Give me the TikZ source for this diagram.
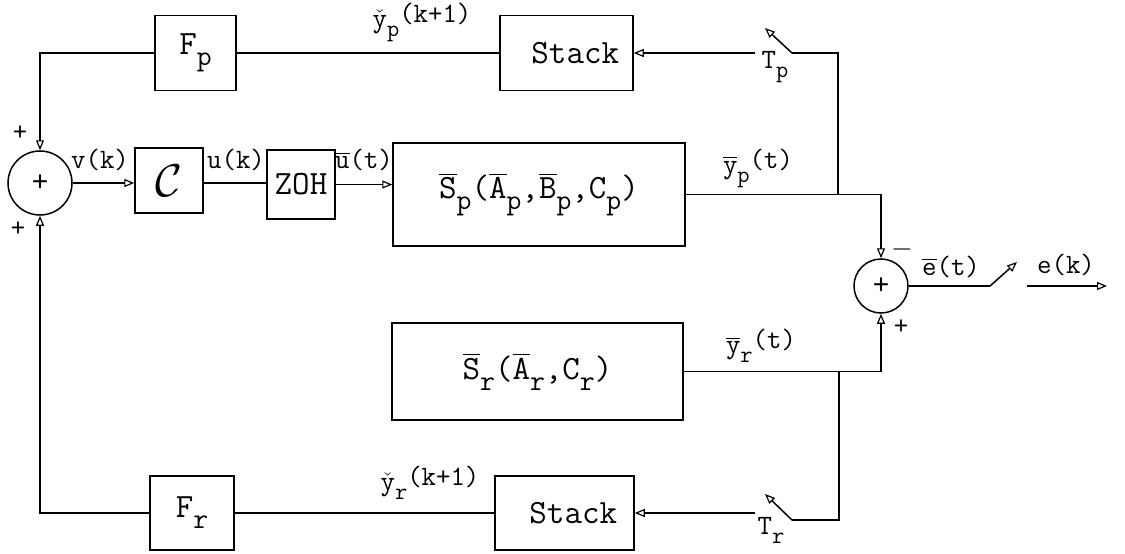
\RequirePackage{fix-cm}
\documentclass[tikz,border=0pt]{standalone}
\usepackage{amsmath}
\usepackage{fontspec}
\usetikzlibrary{arrows.meta}
\newcommand\tb[1]{\(\overline{\texttt{#1}}\)}
\newcommand\lo[1]{\raisebox{-0.32em}{\scalebox{0.85}{\texttt{#1}}}}
\newcommand\hi[1]{\raisebox{0.18em}{\texttt{#1}}}
\begin{document}
\begin{tikzpicture}[x=1pt,y=-1pt,
  blk/.style={draw, line width=1.5pt, inner sep=0pt, font=\fontsize{34}{36}\selectfont\ttfamily},
  sysblk/.style={draw, line width=1.5pt, inner sep=0pt, font=\fontsize{34}{36}\selectfont\ttfamily},
  sumnode/.style={draw, circle, line width=1.5pt, inner sep=0pt, font=\fontsize{32}{34}\selectfont\ttfamily},
  lbl/.style={font=\fontsize{28}{30}\selectfont\ttfamily, inner sep=0pt},
  sig/.style={line width=1.5pt},
  arr/.style={sig, -{Triangle[open, length=10pt, width=8pt, line width=1.2pt]}}]
\useasboundingbox (0,0) rectangle (1125,554);

% blocks
\node[blk, minimum width=81pt, minimum height=75pt] (Fp) at (195.5,53) {F\lo{p}};
\node[blk, minimum width=133pt, minimum height=75pt] (stackP) at (566.5,53) {\ Stack};
\node[sumnode, minimum size=64pt] (sum1) at (40,183) {+};
\node[blk, minimum width=68pt, minimum height=65pt] (C) at (169,180.5) {\scalebox{1.35}{\(\mathcal{C}\)}};
\node[blk, minimum width=68pt, minimum height=69pt] (ZOH) at (301,184.5) {ZOH};
\node[sysblk, minimum width=292pt, minimum height=103pt] (Sp) at (539,194.5)
  {\tb{S}\lo{p}(\tb{A}\lo{p},\tb{B}\lo{p},C\lo{p})};
\node[sysblk, minimum width=291pt, minimum height=97pt] (Sr) at (537.5,371.5)
  {\tb{S}\lo{r}(\tb{A}\lo{r},C\lo{r})\hspace{34pt}};
\node[sumnode, minimum size=54pt] (sum2) at (881,286) {+};
\node[blk, minimum width=139pt, minimum height=74pt] (stackR) at (564.5,513) {\ Stack};
\node[blk, minimum width=84pt, minimum height=74pt] (Fr) at (192,513) {F\lo{r}};

% coordinates for switches and free ends
\coordinate (tpIn) at (755,53);
\coordinate (tpA) at (792,53);
\coordinate (tpT) at (765,28);
\coordinate (tpC) at (838,53);
\coordinate (trIn) at (755,513);
\coordinate (trA) at (792,520);
\coordinate (trT) at (765,494);
\coordinate (trC) at (839,520);
\coordinate (sw) at (990,286);
\coordinate (swT) at (1017,262);
\coordinate (outA) at (1027,286);
\coordinate (outB) at (1107,286);

% top loop
\draw[arr] (tpIn) -- (stackP.east);
\draw[sig] (stackP.west) -- (Fp.east);
\draw[arr] (Fp.west) -| (sum1.north);
\draw[arr] (tpA) -- (tpT);
\draw[sig] (tpA) -- (tpC) -- (tpC |- Sp.east);

% forward path
\draw[arr] (sum1.east) -- (sum1.east -| C.west);
\draw[sig] (sum1.east -| C.east) -- (sum1.east -| ZOH.west);
\draw[arr] (ZOH.east) -- (ZOH.east -| Sp.west);
\draw[arr] (Sp.east) -| (sum2.north);
\draw[arr] (Sr.east) -| (sum2.south);

% bottom loop
\draw[sig] (trC |- Sr.east) -- (trC) -- (trA);
\draw[arr] (trA) -- (trT);
\draw[arr] (trIn) -- (stackR.east);
\draw[sig] (stackR.west) -- (Fr.east);
\draw[arr] (Fr.west) -| (sum1.south);

% output
\draw[sig] (sum2.east) -- (sw);
\draw[arr] (sw) -- (swT);
\draw[arr] (outA) -- (outB);

% labels
\node[lbl] (plus1) at (20,133) {+};
\node[lbl] (plus2) at (18,229) {+};
\node[lbl] (vk) at (100,160) {v(k)};
\node[lbl] (uk) at (236,160) {u(k)};
\node[lbl] (ut) at (364,160) {\tb{u}(t)};
\node[lbl] (ypt) at (758,168) {\tb{y}\lo{p}\hi{(t)}};
\node[lbl] (yrt) at (761,346) {\tb{y}\lo{r}\hi{(t)}};
\node[lbl] (ypk) at (422,22) {\(\check{\texttt{y}}\)\lo{p}\hi{(k+1)}};
\node[lbl] (yrk) at (430,483) {\(\check{\texttt{y}}\)\lo{r}\hi{(k+1)}};
\node[lbl] (et) at (951,267) {\tb{e}(t)};
\node[lbl] (ek) at (1066,265) {e(k)};
\node[lbl] (minus) at (902,249) {\(-\)};
\node[lbl] (plus3) at (901,327) {+};
\node[lbl] (Tp) at (775,67) {T\lo{p}};
\node[lbl] (Tr) at (771,530) {T\lo{r}};
\end{tikzpicture}
\end{document}
